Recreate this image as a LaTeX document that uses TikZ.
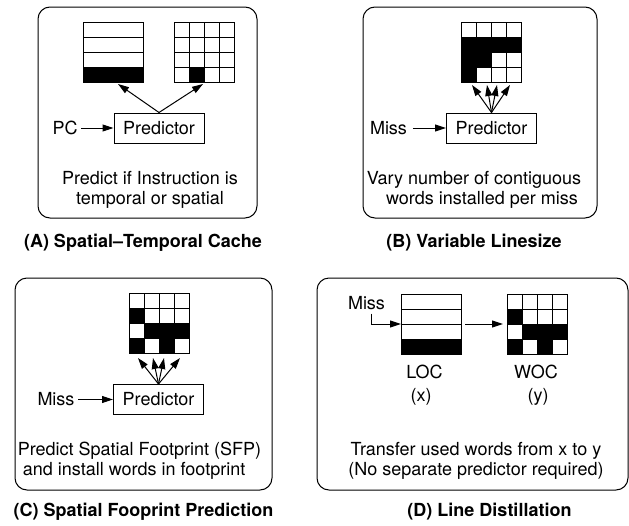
\documentclass[tikz,border=0pt]{standalone}
\usepackage{fontspec}
\setmainfont{TeX Gyre Heros}
\usetikzlibrary{arrows.meta}

\tikzset{
  every node/.style={font=\fontsize{18}{20}\selectfont},
  arr/.style={-{Triangle[length=11pt,width=7pt]}},
  panel/.style={rounded corners=12pt},
  cache/.style={draw,minimum width=60pt,minimum height=60pt,inner sep=0pt,outer sep=0pt},
  pred/.style={draw,minimum width=90pt,minimum height=30pt,inner sep=0pt},
  note/.style={align=center},
  caption/.style={font=\fontsize{18}{20}\selectfont\bfseries}
}

% line cache: four lines, last one used
\newcommand{\linecache}[1]{%
  \fill ([shift={(0,45)}]#1.north west) rectangle (#1.south east);
  \foreach \k in {15,30,45}
    \draw ([shift={(0,\k)}]#1.north west) -- ([shift={(0,\k)}]#1.north east);}
% word cache: 4x4 words, #2 = used words col/row
\newcommand{\wordcache}[2]{%
  \foreach \c/\r in {#2}
    \fill ([shift={(15*\c,15*\r)}]#1.north west) rectangle ++(15,15);
  \foreach \k in {15,30,45} {
    \draw ([shift={(\k,0)}]#1.north west) -- ([shift={(\k,0)}]#1.south west);
    \draw ([shift={(0,\k)}]#1.north west) -- ([shift={(0,\k)}]#1.north east);}}

\begin{document}
\begin{tikzpicture}[x=1pt,y=-1pt,line width=1pt]
\useasboundingbox (0,0) rectangle (629,525);

% (A)
\draw[panel] (38,7) rectangle (257,218);
\node[cache] (locA) at (113.5,52) {};
\node[cache] (gA) at (204,52) {};
\linecache{locA}
\wordcache{gA}{1/3}
\node[pred] (pA) at (159,128) {Predictor};
\node (pc) at (65,128) {PC};
\coordinate (tA1) at (118,84);
\coordinate (tA2) at (203,84);
\draw[arr] (pc) -- (pA);
\draw[arr] (pA.north) -- (tA1);
\draw[arr] (pA.north) -- (tA2);
\node[note] (nA) at (150,190) {Predict if Instruction is\\temporal or spatial};
\node[caption] (capA) at (143,243) {(A) Spatial--Temporal Cache};

% (B)
\draw[panel] (363,7) rectangle (597,218);
\node[cache] (gB) at (491.5,52) {};
\wordcache{gB}{0/1,1/1,2/1,3/1,0/2,1/2,0/3}
\node[pred] (pB) at (491.5,128) {Predictor};
\node (missB) at (388.5,128) {Miss};
\draw[arr,shorten <=2pt] (missB) -- (pB);
\foreach \x [count=\i] in {472,487,497,510} \coordinate (fB\i) at (\x,85);
\foreach \i in {1,...,4} \draw[arr] (pB.north) -- (fB\i);
\node[note] (nB) at (474,190) {Vary number of contiguous\\\hspace*{16pt}words installed per miss};
\node[caption] (capB) at (474,243) {(B) Variable Linesize};

% (C)
\draw[panel] (15,278) rectangle (272,490);
\node[cache] (gC) at (159.5,323.5) {};
\wordcache{gC}{0/1,1/2,2/2,3/2,0/3,2/3}
\node[pred] (pC) at (158.5,399.5) {Predictor};
\node (missC) at (56,399.5) {Miss};
\draw[arr] (missC) -- (pC);
\foreach \x [count=\i] in {138,153,164,180} \coordinate (fC\i) at (\x,358);
\foreach \i in {1,...,4} \draw[arr] (pC.north) -- (fC\i);
\node[note,align=left,anchor=west] (nC) at (14,461) {Predict Spatial Footprint (SFP)\\\hspace*{5pt}and install words in footprint};
\node[caption] (capC) at (143.5,512) {(C) Spatial Fooprint Prediction};

% (D)
\draw[panel] (317,278) rectangle (628,490);
\node[cache] (locD) at (431,324) {};
\node[cache] (wocD) at (537,324) {};
\linecache{locD}
\wordcache{wocD}{0/1,1/2,2/2,3/2,0/3,2/3}
\node (missD) at (366.5,303) {Miss};
\draw[arr] ([xshift=4.5pt]missD.south) |- (locD.west);
\draw[arr,shorten <=4pt,shorten >=4pt] (locD) -- (wocD);
\node (locl) at (424.5,372) {LOC};
\node (xl) at (421,397) {(x)};
\node (wocl) at (536,372) {WOC};
\node (yl) at (538,397) {(y)};
\node[note] (nD) at (476,461) {Transfer used words from x to y\\(No separate predictor required)};
\node[caption] (capD) at (489.5,512) {(D) Line Distillation};
\end{tikzpicture}
\end{document}
